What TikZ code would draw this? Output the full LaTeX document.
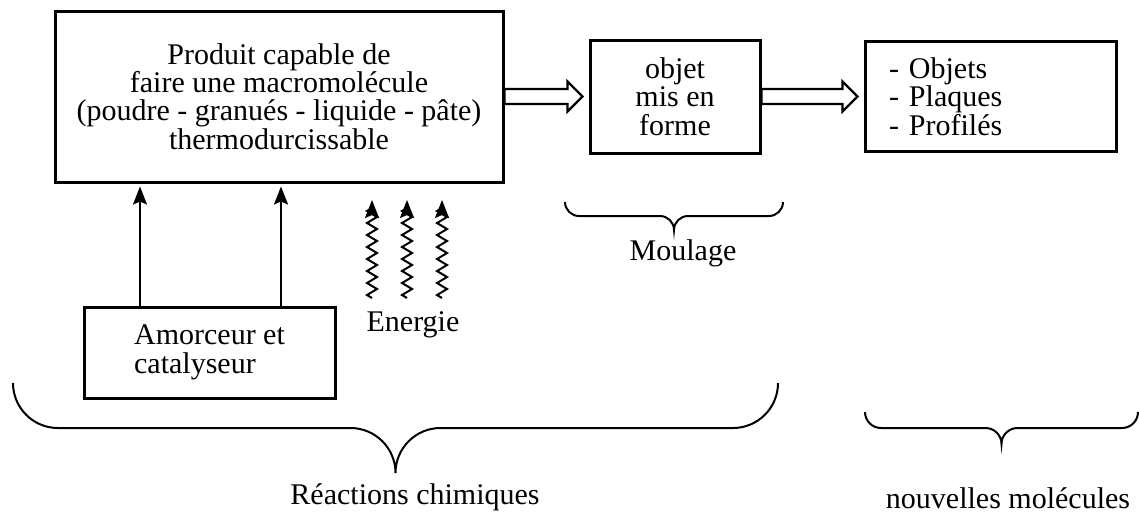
\documentclass[tikz,border=0pt]{standalone}
\usepackage{fontspec}
\setmainfont{Liberation Serif}
\usetikzlibrary{arrows.meta,positioning,calc,decorations.pathmorphing}

\begin{document}
\begin{tikzpicture}[
  x=0.5pt, y=-0.5pt, font=\fontsize{15}{14.2}\selectfont,
  box/.style={draw, line width=1.5pt, inner sep=0pt, align=center},
  ar/.style={-{Stealth[length=9pt, width=7pt, inset=1.5pt]}, line width=1pt},
  wave/.style={ar, decorate, decoration={zigzag, segment length=6pt,
               amplitude=2.5pt, post length=3pt}},
  hollow/.style={line width=1.2pt, fill=white, to path={let \p1=(\tikztostart),
     \p2=(\tikztotarget) in (\x1,\y1+3.75pt) -- (\x2-10.5pt,\y1+3.75pt)
     -- (\x2-10.5pt,\y1+7.5pt) -- (\x2-3pt,\y1) -- (\x2-10.5pt,\y1-7.5pt)
     -- (\x2-10.5pt,\y1-3.75pt) -- (\x1,\y1-3.75pt) -- cycle}},
  br/.style={line width=1pt}]
  \useasboundingbox (0,0) rectangle (1139,516);
  \node[box, minimum width=224pt, minimum height=85.5pt] (prod) at (279,96.5)
       {Produit capable de\\faire une macromolécule\\(poudre - granués - liquide - pâte)\\thermodurcissable};
  \node[box, right=42pt of prod, minimum width=85pt, minimum height=56.5pt] (obj)
       {objet\\mis en\\forme};
  \node[box, right=51pt of obj, align=left, text width=101.5pt, inner xsep=12pt,
        minimum height=55pt] (list) {- Objets\\- Plaques\\- Profilés};
  \node[box, align=left, minimum width=125.5pt, minimum height=45.5pt] (amor)
       at (209.5,352.5) {Amorceur et\\catalyseur};
  \draw[hollow] (prod.east) to (obj.west);
  \draw[hollow] (obj.east) to (list.west);
  \foreach \x [count=\i] in {140,281} {
    \coordinate (u\i) at (\x,0);
    \draw[ar, shorten >=1.5pt] (amor.north -| u\i) -- (prod.south -| u\i);
  }
  \foreach \x [count=\i] in {372,407,442} {
    \coordinate (w\i) at (\x,298);
    \coordinate (t\i) at (\x,200);
    \draw[wave] (w\i) -- (t\i);
  }
  \node (nrj) at (413,325) {Energie};
  \node (moul) at (683,253) {Moulage};
  \node (reac) at (415,497) {Réactions chimiques};
  \node (nouv) at (1008,498) {nouvelles molécules};
  % accolades
  \foreach \xa/\xb/\yt/\rr in {13/778/383/45, 565/783/202/14, 865/1138/412/16}
    \draw[br] (\xa,\yt) arc[start angle=180, end angle=270, radius=\rr*0.5pt]
      -- ({(\xa+\xb)/2-\rr},\yt+\rr) arc[start angle=90, end angle=0, radius=\rr*0.5pt]
      arc[start angle=180, end angle=90, radius=\rr*0.5pt] -- ({\xb-\rr},\yt+\rr)
      arc[start angle=270, end angle=360, radius=\rr*0.5pt];
\end{tikzpicture}
\end{document}
